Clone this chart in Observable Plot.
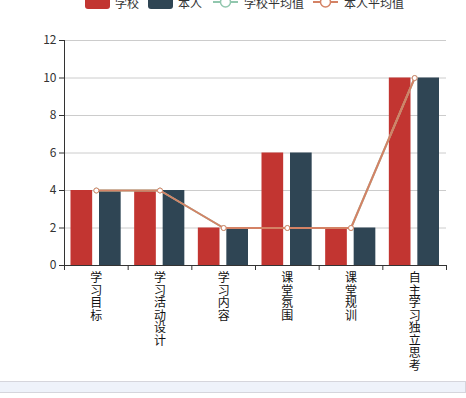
<!DOCTYPE html>
<html><head><meta charset="utf-8">
<script src="https://cdn.jsdelivr.net/npm/d3@7"></script>
<script src="https://cdn.jsdelivr.net/npm/@observablehq/plot@0.6"></script>
<style>
body{margin:0;background:#fff;font-family:"Noto Sans CJK SC","Noto Sans",sans-serif;}
#wrap{position:relative;width:466px;height:398px;overflow:hidden;}
#legend{position:absolute;top:-5px;left:0;width:466px;height:14px;font-size:12px;color:#333;}
#legend .it{position:absolute;top:0;height:14px;display:flex;align-items:center;}
#legend .sw{width:25px;height:14px;border-radius:3px;margin-right:5px;}
#legend svg{margin-right:6px;}
#chart{position:absolute;top:0;left:0;}
#bar{position:absolute;left:0;top:381px;width:465px;height:10px;background:#eef2fa;border-top:1px solid #d5d5dc;border-bottom:1px solid #d5d5dc;border-right:1px solid #d5d5dc;}
</style></head>
<body><div id="wrap"><div id="chart"></div><div id="legend"></div><div id="bar"></div></div>
<script>
const categories = ["学习目标","学习活动设计","学习内容","课堂氛围","课堂规训","自主学习独立思考"];
const schoolValues = [4,4,2,6,2,10];
const selfValues = [4,4,2,6,2,10];
const schoolAvg = [4,4,2,2,2,10];
const selfAvg = [4,4,2,2,2,10];
const yTicks = [0,2,4,6,8,10,12];
const seriesNames = ["学校","本人","学校平均值","本人平均值"];
const colors = ["#c23531","#2f4554","#91c7ae","#d48265"];

const rows = categories.map((c,i)=>({c,i,school:schoolValues[i],self:selfValues[i],sAvg:schoolAvg[i],pAvg:selfAvg[i]}));

const chart = Plot.plot({
  width:466, height:381,
  marginTop:40, marginBottom:116, marginLeft:64, marginRight:20,
  style:{fontFamily:'"Noto Sans CJK SC","Noto Sans",sans-serif',fontSize:"12px",color:"#333",background:"transparent"},
  x:{type:"linear",domain:[0,categories.length]},
  y:{domain:[0,12]},
  marks:[
    Plot.gridY(yTicks.filter(d=>d>0),{stroke:"#ccc",strokeOpacity:1}),
    Plot.rectY(rows,{x1:"i",x2:d=>d.i+1,y:"school",fill:colors[0],insetLeft:6.5,insetRight:35.5}),
    Plot.rectY(rows,{x1:"i",x2:d=>d.i+1,y:"self",fill:colors[1],insetLeft:35,insetRight:7}),
    Plot.line(rows,{x:d=>d.i+0.5,y:"sAvg",stroke:colors[2],strokeWidth:2}),
    Plot.dot(rows,{x:d=>d.i+0.5,y:"sAvg",r:2.5,fill:"#fff",stroke:colors[2],strokeWidth:1}),
    Plot.line(rows,{x:d=>d.i+0.5,y:"pAvg",stroke:colors[3],strokeWidth:2}),
    Plot.dot(rows,{x:d=>d.i+0.5,y:"pAvg",r:2.5,fill:"#fff",stroke:colors[3],strokeWidth:1}),
    Plot.axisY({ticks:yTicks,tickSize:5,tickPadding:3,label:null,fill:"#333",stroke:"#333"}),
    Plot.ruleX([0],{stroke:"#333"}),
    Plot.ruleY([0],{stroke:"#333"}),
    Plot.axisX({ticks:d3.range(categories.length+1),tickSize:5,tickFormat:()=>"",label:null,stroke:"#333"}),
    Plot.axisX({ticks:d3.range(categories.length).map(i=>i+0.5),tickSize:0,tickPadding:8,
      tickFormat:v=>[...categories[Math.floor(v)]].join("\n"),label:null,fill:"#111",lineHeight:1.04})
  ]
});
document.getElementById("chart").appendChild(chart);

// legend
const lg = document.getElementById("legend");
const items = [
  {left:85,type:"rect",c:colors[0],t:seriesNames[0]},
  {left:148,type:"rect",c:colors[1],t:seriesNames[1]},
  {left:213,type:"line",c:colors[2],t:seriesNames[2]},
  {left:313,type:"line",c:colors[3],t:seriesNames[3]}
];
items.forEach(it=>{
  const d=document.createElement("div");d.className="it";d.style.left=it.left+"px";
  if(it.type==="rect"){
    const s=document.createElement("div");s.className="sw";s.style.background=it.c;d.appendChild(s);
  } else {
    d.insertAdjacentHTML("beforeend",`<svg width="25" height="14"><line x1="0" x2="25" y1="7" y2="7" stroke="${it.c}" stroke-width="2"/><circle cx="12.5" cy="7" r="5" fill="#fff" stroke="${it.c}" stroke-width="1.5"/></svg>`);
  }
  const t=document.createElement("span");t.textContent=it.t;d.appendChild(t);
  lg.appendChild(d);
});
</script></body></html>
